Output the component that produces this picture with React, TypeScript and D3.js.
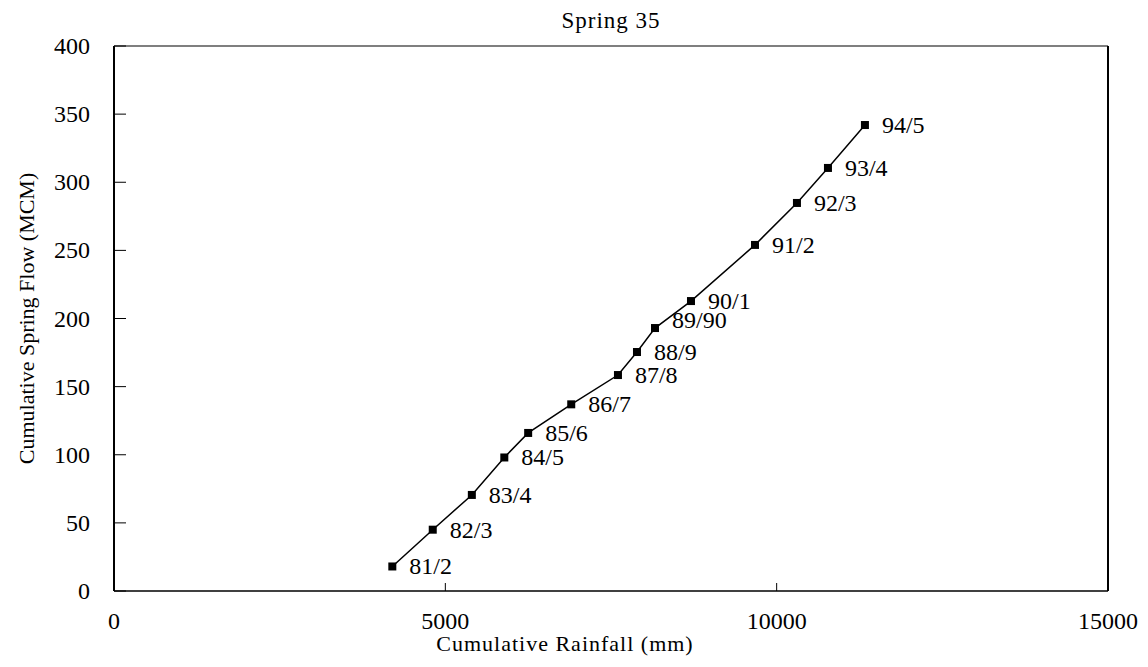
import React from "react";
import * as d3 from "d3";

const years = ["81/2", "82/3", "83/4", "84/5", "85/6", "86/7", "87/8", "88/9", "89/90", "90/1", "91/2", "92/3", "93/4", "94/5"];
const rainfall = [4200, 4810, 5400, 5890, 6250, 6900, 7605, 7892, 8164, 8707, 9673, 10306, 10774, 11332];
const flow = [18, 45, 70.5, 98, 116, 137, 158.5, 175.4, 193, 212.8, 254, 284.8, 310.5, 342];
const xTicks = [0, 5000, 10000, 15000];
const yTicks = [0, 50, 100, 150, 200, 250, 300, 350, 400];

const W = 1148;
const H = 667;
const M = { left: 114, right: 1108, top: 46, bottom: 591 };
const FONT = "'Liberation Serif', 'Times New Roman', serif";

export default function App() {
  const x = d3.scaleLinear().domain([0, 15000]).range([M.left, M.right]);
  const y = d3.scaleLinear().domain([0, 400]).range([M.bottom, M.top]);
  const pts = years.map((yr, i) => ({ yr, x: x(rainfall[i]), y: y(flow[i]) }));
  const line = d3.line<{ x: number; y: number }>().x((d) => d.x).y((d) => d.y);
  const nudge: Record<string, number> = { "89/90": -8 };

  return (
    <svg width={W} height={H} style={{ position: "absolute", left: 0, top: 0, background: "#fff" }} fontFamily={FONT}>
      <rect x={0} y={0} width={W} height={H} fill="#fff" />
      <text x={(M.left + M.right) / 2} y={28} textAnchor="middle" fontSize={23} letterSpacing={1}>Spring 35</text>
      {/* frame */}
      <line x1={M.left} x2={M.right} y1={M.top} y2={M.top} stroke="#000" strokeWidth={1.2} />
      <line x1={M.left} x2={M.right} y1={M.bottom} y2={M.bottom} stroke="#000" strokeWidth={1.5} />
      <line x1={M.left} x2={M.left} y1={M.top} y2={M.bottom} stroke="#000" strokeWidth={2} />
      <line x1={M.right} x2={M.right} y1={M.top} y2={M.bottom} stroke="#000" strokeWidth={2} />
      {yTicks.map((t) => (
        <g key={"y" + t}>
          <line x1={M.left} x2={M.left + 12} y1={y(t)} y2={y(t)} stroke="#000" strokeWidth={1} />
          <text x={90} y={y(t) + 8} textAnchor="end" fontSize={24}>{t}</text>
        </g>
      ))}
      {xTicks.map((t) => (
        <g key={"x" + t}>
          {t > 0 && t < 15000 && <line x1={x(t)} x2={x(t)} y1={M.bottom} y2={M.bottom - 8} stroke="#000" strokeWidth={1} />}
          <text x={x(t)} y={629} textAnchor="middle" fontSize={24}>{t}</text>
        </g>
      ))}
      <text x={565} y={651} textAnchor="middle" fontSize={22} letterSpacing={1}>Cumulative Rainfall (mm)</text>
      <text transform={`translate(34, ${(M.top + M.bottom) / 2}) rotate(-90)`} textAnchor="middle" fontSize={22}>Cumulative Spring Flow (MCM)</text>
      <path d={line(pts) || ""} fill="none" stroke="#000" strokeWidth={1.5} />
      {pts.map((p) => (
        <g key={p.yr}>
          <rect x={p.x - 4} y={p.y - 4} width={8} height={8} fill="#000" />
          <text x={p.x + 17} y={p.y + 8 + (nudge[p.yr] || 0)} fontSize={24}>{p.yr}</text>
        </g>
      ))}
    </svg>
  );
}
